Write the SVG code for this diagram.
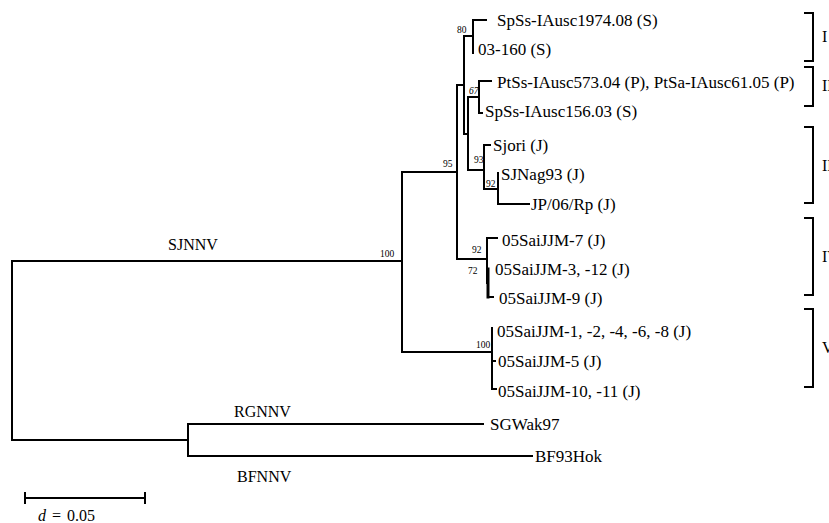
<svg xmlns="http://www.w3.org/2000/svg" width="829" height="523" viewBox="0 0 829 523">
<style>
.br{fill:none;stroke:#000;stroke-width:2;stroke-linecap:square}
.lf{font-family:"Liberation Serif","Times New Roman",serif;font-size:17px;fill:#000}
.bs{font-family:"Liberation Serif","Times New Roman",serif;font-size:9.5px;fill:#000}
.gp{font-family:"Liberation Serif","Times New Roman",serif;font-size:16px;fill:#000}
</style>
<rect width="829" height="523" fill="#fff"/>
<g id="connectors">
<path class="br" d="M12,261 V440 M12,261 H402 M12,440 H188"/>
<path class="br" d="M188,424 V456 M188,424 H483 M188,456 H532"/>
<path class="br" d="M402,172 V352 M402,172 H457 M402,352 H492"/>
<path class="br" d="M492,328 V389 M492,361 H495 M492,389 H496"/>
<path class="br" d="M457,85 V259 M457,85 H464 M457,259 H487"/>
<path class="br" d="M487,238 V283 M487,238 H497"/>
<path class="br" style="stroke-width:3" d="M488,269 V297"/>
<path class="br" d="M488,297 H493"/>
<path class="br" d="M464,36 V134 M464,36 H473 M464,134 H468"/>
<path class="br" d="M473,20 V53 M473,20 H486"/>
<path class="br" d="M468,97 V170 M468,97 H479 M468,170 H484"/>
<path class="br" d="M479,81 V113 M479,81 H491 M479,113 H482"/>
<path class="br" d="M484,145 V189 M484,145 H490 M484,189 H498"/>
<path class="br" d="M498,173 V204 M498,204 H529"/>
<path class="br" d="M25,498 H145 M25,493 V503 M145,493 V503"/>
<path class="br" d="M805,13 H813 V61 H805 M805,67 H813 V106 H805 M805,127 H813 V203 H805 M805,218 H813 V295 H805 M805,309 H813 V387 H805"/>
</g>
<g id="leaf-SpSs1974"><text class="lf" x="497" y="26">SpSs-IAusc1974.08 (S)</text></g>
<g id="leaf-03-160"><text class="lf" x="478" y="55">03-160 (S)</text></g>
<g id="leaf-PtSs573"><text class="lf" x="497" y="88">PtSs-IAusc573.04 (P), PtSa-IAusc61.05 (P)</text></g>
<g id="leaf-SpSs156"><text class="lf" x="485" y="117">SpSs-IAusc156.03 (S)</text></g>
<g id="leaf-Sjori"><text class="lf" x="493" y="151">Sjori (J)</text></g>
<g id="leaf-SJNag93"><text class="lf" x="501" y="180">SJNag93 (J)</text></g>
<g id="leaf-JP06Rp"><text class="lf" x="531" y="210">JP/06/Rp (J)</text></g>
<g id="leaf-05SaiJJM-7"><text class="lf" x="502" y="246">05SaiJJM-7 (J)</text></g>
<g id="leaf-05SaiJJM-3"><text class="lf" x="495" y="275">05SaiJJM-3, -12 (J)</text></g>
<g id="leaf-05SaiJJM-9"><text class="lf" x="499" y="304">05SaiJJM-9 (J)</text></g>
<g id="leaf-05SaiJJM-1"><text class="lf" x="497" y="337">05SaiJJM-1, -2, -4, -6, -8 (J)</text></g>
<g id="leaf-05SaiJJM-5"><text class="lf" x="498" y="367">05SaiJJM-5 (J)</text></g>
<g id="leaf-05SaiJJM-10"><text class="lf" x="498" y="397">05SaiJJM-10, -11 (J)</text></g>
<g id="leaf-SGWak97"><text class="lf" x="490" y="430">SGWak97</text></g>
<g id="leaf-BF93Hok"><text class="lf" x="535" y="462">BF93Hok</text></g>
<g id="bootstrap">
<text class="bs" x="457" y="33">80</text>
<text class="bs" x="469" y="94" font-style="italic">67</text>
<text class="bs" x="443" y="167">95</text>
<text class="bs" x="474" y="163">93</text>
<text class="bs" x="486" y="187">92</text>
<text class="bs" x="472" y="253">92</text>
<text class="bs" x="468" y="274">72</text>
<text class="bs" x="380" y="257">100</text>
<text class="bs" x="476" y="348">100</text>
</g>
<g id="genotype-labels">
<text class="gp" x="168" y="250">SJNNV</text>
<text class="gp" x="234" y="417">RGNNV</text>
<text class="gp" x="237" y="482">BFNNV</text>
</g>
<g id="clade-labels">
<text class="gp" x="822" y="42">I</text>
<text class="gp" x="822" y="91">II</text>
<text class="gp" x="822" y="171">III</text>
<text class="gp" x="822" y="262">IV</text>
<text class="gp" x="822" y="353">V</text>
</g>
<g id="scale"><text class="gp" x="38" y="521" font-size="16" word-spacing="2"><tspan font-style="italic">d</tspan> = 0.05</text></g>
</svg>
